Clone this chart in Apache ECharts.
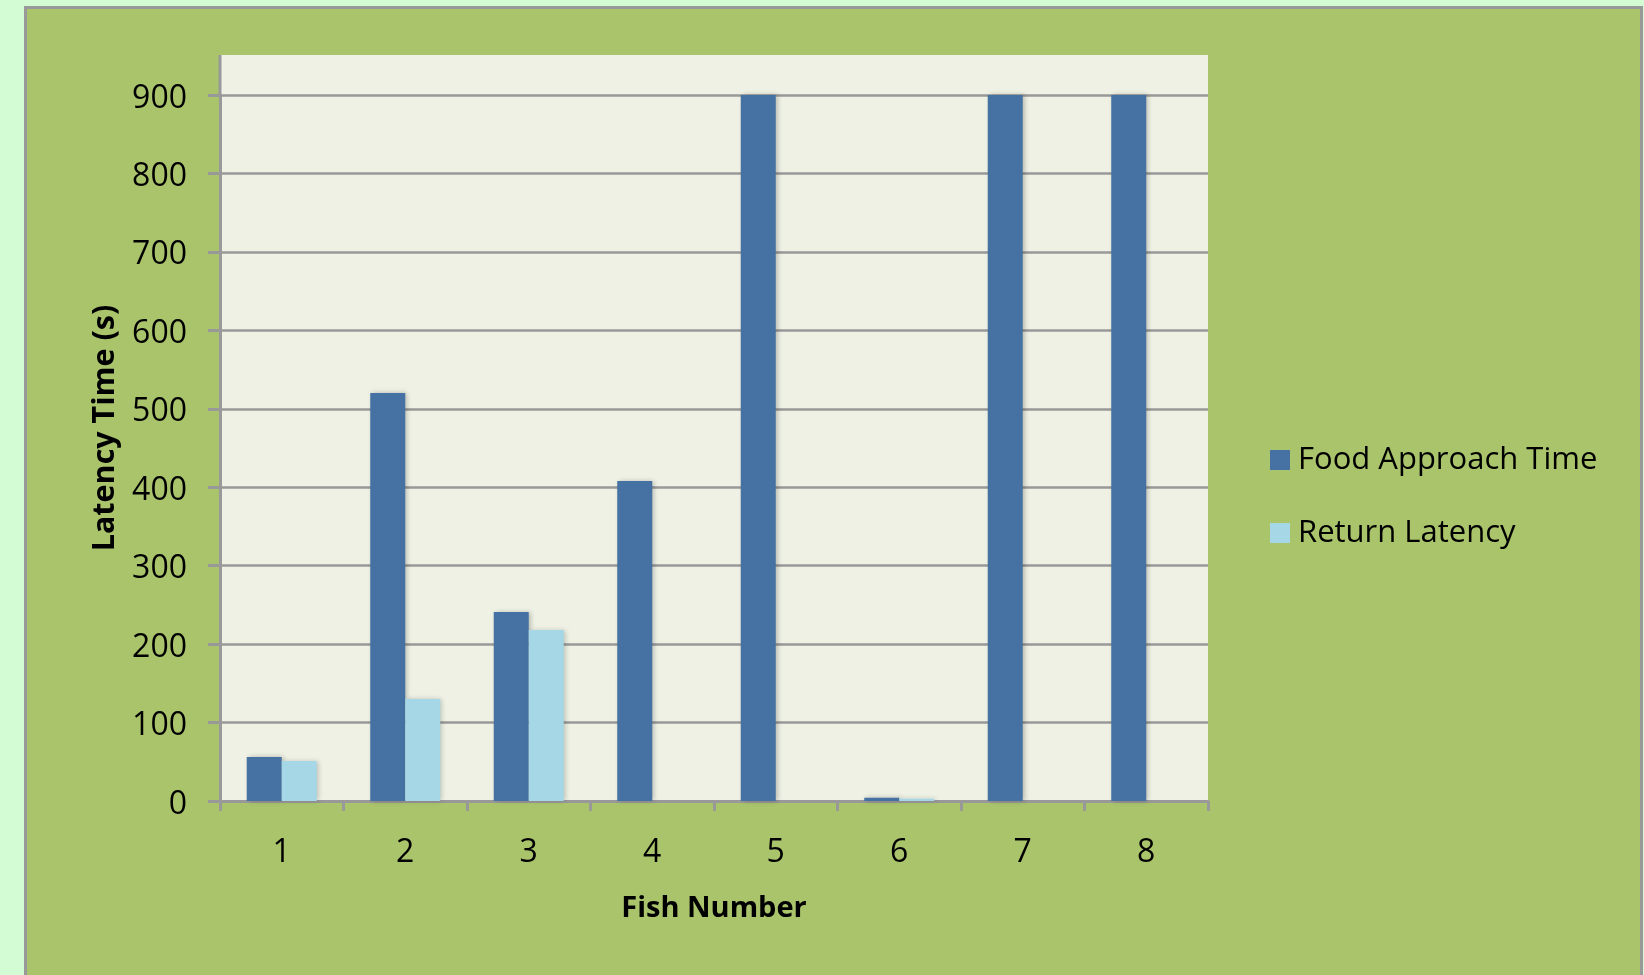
<!DOCTYPE html>
<html>
<head>
<meta charset="utf-8">
<script src="https://cdn.jsdelivr.net/npm/echarts@6/dist/echarts.min.js"></script>
<style>
html,body{margin:0;padding:0;background:#d4fcd4;}
#c{width:1644px;height:975px;}
</style>
</head>
<body>
<div id="c"></div>
<script>
const categories = ['1', '2', '3', '4', '5', '6', '7', '8'];
const foodApproachTime = [56, 520, 241, 408, 900, 4, 900, 900];
const returnLatency = [51, 130, 218, 0, 0, 3, 0, 0];
const yMin = 0;
const yMax = 900;
const yInterval = 100;

const FONT = '"Open Sans", "DejaVu Sans", sans-serif';
const chart = echarts.init(document.getElementById('c'), null, {renderer: 'canvas'});

const option = {
  backgroundColor: '#d4fcd4',
  animation: false,
  graphic: [
    {type: 'rect', z: -20, silent: true,
     shape: {x: 25.5, y: 7.5, width: 1616, height: 1000},
     style: {fill: '#aac46c', stroke: '#999999', lineWidth: 3}},
    {type: 'rect', z: -10, silent: true,
     shape: {x: 220, y: 55, width: 988, height: 746},
     style: {fill: '#eef1e4'}},
    {type: 'line', z: 10, silent: true,
     shape: {x1: 220, y1: 55, x2: 220, y2: 96},
     style: {stroke: '#999999', lineWidth: 3}}
  ],
  grid: {left: 220, right: 436, top: 95, bottom: 174, containLabel: false},
  legend: {
    orient: 'vertical',
    left: 1265,
    top: 437,
    icon: 'rect',
    itemWidth: 20,
    itemHeight: 20,
    itemGap: 37,
    textStyle: {fontFamily: FONT, fontSize: 31, color: '#000', lineHeight: 36, padding: [0, 0, 0, 3]},
    data: ['Food Approach Time', 'Return Latency']
  },
  xAxis: {
    type: 'category',
    data: categories,
    name: 'Fish Number',
    nameLocation: 'middle',
    nameGap: 93,
    nameTextStyle: {fontFamily: FONT, fontSize: 29, fontWeight: 'bold', color: '#000'},
    axisLine: {lineStyle: {color: '#999999', width: 3}},
    axisTick: {show: true, length: 10, lineStyle: {color: '#999999', width: 3}},
    axisLabel: {fontFamily: FONT, fontSize: 32, color: '#000', margin: 36},
    splitLine: {show: false}
  },
  yAxis: {
    type: 'value',
    min: yMin,
    max: yMax,
    interval: yInterval,
    name: 'Latency Time (s)',
    nameLocation: 'middle',
    nameGap: 99,
    nameTextStyle: {fontFamily: FONT, fontSize: 30.5, fontWeight: 'bold', color: '#000', padding: [0, 0, 0, 40]},
    axisLine: {show: true, lineStyle: {color: '#999999', width: 3}},
    axisTick: {show: true, length: 12, lineStyle: {color: '#999999', width: 3}},
    axisLabel: {
      fontFamily: FONT, fontSize: 32, color: '#000', margin: 33,
      formatter: function (v) { return '{n|' + v + '}'; },
      rich: {n: {fontFamily: FONT, fontSize: 32, color: '#000', padding: [7, 0, 0, 0]}}
    },
    splitLine: {show: true, lineStyle: {color: '#999999', width: 2.5}}
  },
  series: [
    {
      name: 'Food Approach Time',
      type: 'bar',
      data: foodApproachTime,
      barWidth: 35,
      barGap: '0%',
      itemStyle: {color: '#4672a3', shadowBlur: 5, shadowColor: 'rgba(0,0,0,0.25)', shadowOffsetX: 2}
    },
    {
      name: 'Return Latency',
      type: 'bar',
      data: returnLatency,
      barWidth: 35,
      barGap: '0%',
      itemStyle: {color: '#a5d7e6', shadowBlur: 5, shadowColor: 'rgba(0,0,0,0.2)', shadowOffsetX: 2}
    }
  ]
};
chart.setOption(option);
</script>
</body>
</html>
